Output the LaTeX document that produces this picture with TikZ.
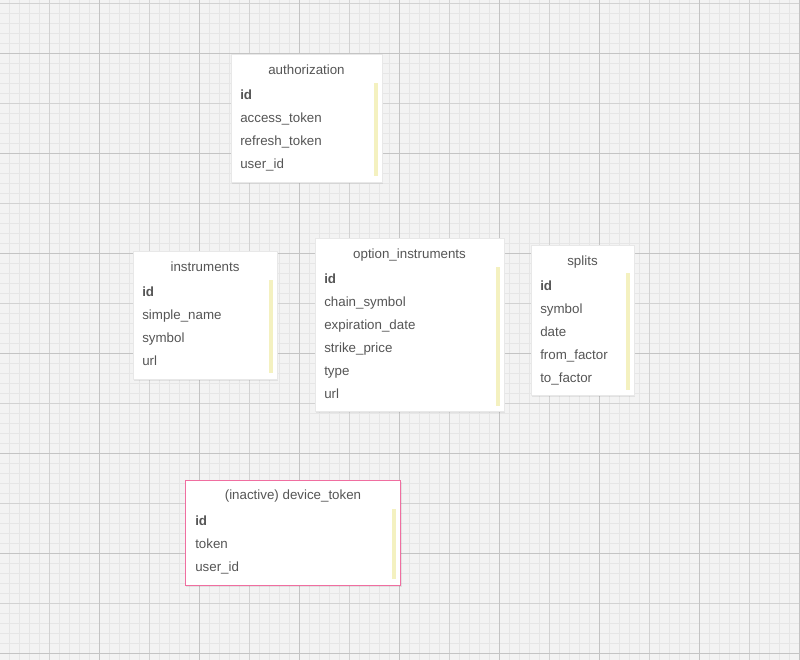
\documentclass[tikz,border=0pt]{standalone}
\usepackage{fontspec}
\setmainfont{Liberation Sans}
\definecolor{bg}{RGB}{243,243,243}
\definecolor{gminor}{RGB}{230,230,230}
\definecolor{gmid}{RGB}{210,210,210}
\definecolor{gmajor}{RGB}{196,196,196}
\definecolor{txt}{RGB}{85,85,85}
\definecolor{bar}{RGB}{244,241,192}
\definecolor{pinkb}{RGB}{240,110,160}
\definecolor{boxb}{RGB}{232,232,232}
\begin{document}
\begin{tikzpicture}[x=0.75pt,y=-0.75pt,
  tablebox/.style={draw=boxb,line width=0.5pt,fill=white},
  tableshadow/.style={fill=black,fill opacity=0.07,draw=none},
  yellowbar/.style={fill=bar,draw=none},
  title/.style={font=\fontsize{10}{12}\selectfont,text=txt,anchor=base,inner sep=0pt},
  field/.style={font=\fontsize{10}{12}\selectfont,text=txt,anchor=base west,inner sep=0pt},
  keyfield/.style={field,font=\fontsize{10}{12}\selectfont\bfseries}]
\useasboundingbox (0,0) rectangle (800,660);
\fill[bg] (0,0) rectangle (800,660);
\foreach \i in {0,...,79} \draw[gminor,line width=0.75pt] (9.5+10*\i,0) -- (9.5+10*\i,660);
\foreach \i in {0,...,65} \draw[gminor,line width=0.75pt] (0,3.3+10*\i) -- (800,3.3+10*\i);
\foreach \i in {0,...,7} \draw[gmid,line width=0.75pt] (49.5+100*\i,0) -- (49.5+100*\i,660);
\foreach \i in {0,...,6} \draw[gmid,line width=0.75pt] (0,3.3+100*\i) -- (800,3.3+100*\i);
\foreach \i in {0,...,7} \draw[gmajor,line width=0.75pt] (99.5+100*\i,0) -- (99.5+100*\i,660);
\foreach \i in {0,...,6} \draw[gmajor,line width=0.75pt] (0,53.3+100*\i) -- (800,53.3+100*\i);

% authorization
\fill[tableshadow] (232,56) rectangle (383,184);
\draw[tablebox] (231,54) rectangle (382,182);
\fill[yellowbar] (374,83) rectangle (378,176);
\node[title] (authT) at (306.5,74.5) {authorization};
\node[keyfield] (auth1) at (240,99.5) {id};
\node[field] (auth2) at (240,122.5) {access\_token};
\node[field] (auth3) at (240,145.5) {refresh\_token};
\node[field] (auth4) at (240,168.5) {user\_id};

% instruments
\fill[tableshadow] (134,253) rectangle (278,381);
\draw[tablebox] (133,251) rectangle (277,379);
\fill[yellowbar] (268.5,280) rectangle (273,373);
\node[title] (insT) at (205,271.5) {instruments};
\node[keyfield] (ins1) at (142,296.5) {id};
\node[field] (ins2) at (142,319.5) {simple\_name};
\node[field] (ins3) at (142,342.5) {symbol};
\node[field] (ins4) at (142,365.5) {url};

% option_instruments
\fill[tableshadow] (316,240.5) rectangle (505,413);
\draw[tablebox] (315,238.5) rectangle (504,411);
\fill[yellowbar] (496,267) rectangle (500,406);
\node[title] (optT) at (409.5,258.5) {option\_instruments};
\node[keyfield] (opt1) at (324,283.5) {id};
\node[field] (opt2) at (324,306.5) {chain\_symbol};
\node[field] (opt3) at (324,329.5) {expiration\_date};
\node[field] (opt4) at (324,352.5) {strike\_price};
\node[field] (opt5) at (324,375.5) {type};
\node[field] (opt6) at (324,398.5) {url};

% splits
\fill[tableshadow] (532,247) rectangle (635,397);
\draw[tablebox] (531,245) rectangle (634,395);
\fill[yellowbar] (626,273) rectangle (630,390);
\node[title] (splT) at (582.5,265.5) {splits};
\node[keyfield] (spl1) at (540,290.5) {id};
\node[field] (spl2) at (540,313.5) {symbol};
\node[field] (spl3) at (540,336.5) {date};
\node[field] (spl4) at (540,359.5) {from\_factor};
\node[field] (spl5) at (540,382.5) {to\_factor};

% device_token
\fill[tableshadow] (186,482) rectangle (402,587);
\draw[tablebox,draw=pinkb,line width=0.75pt] (185,480) rectangle (400.5,585);
\fill[yellowbar] (392,508.5) rectangle (396,579);
\node[title] (devT) at (293,499.5) {(inactive) device\_token};
\node[keyfield] (dev1) at (195,525.5) {id};
\node[field] (dev2) at (195,548.5) {token};
\node[field] (dev3) at (195,571.5) {user\_id};
\end{tikzpicture}
\end{document}
